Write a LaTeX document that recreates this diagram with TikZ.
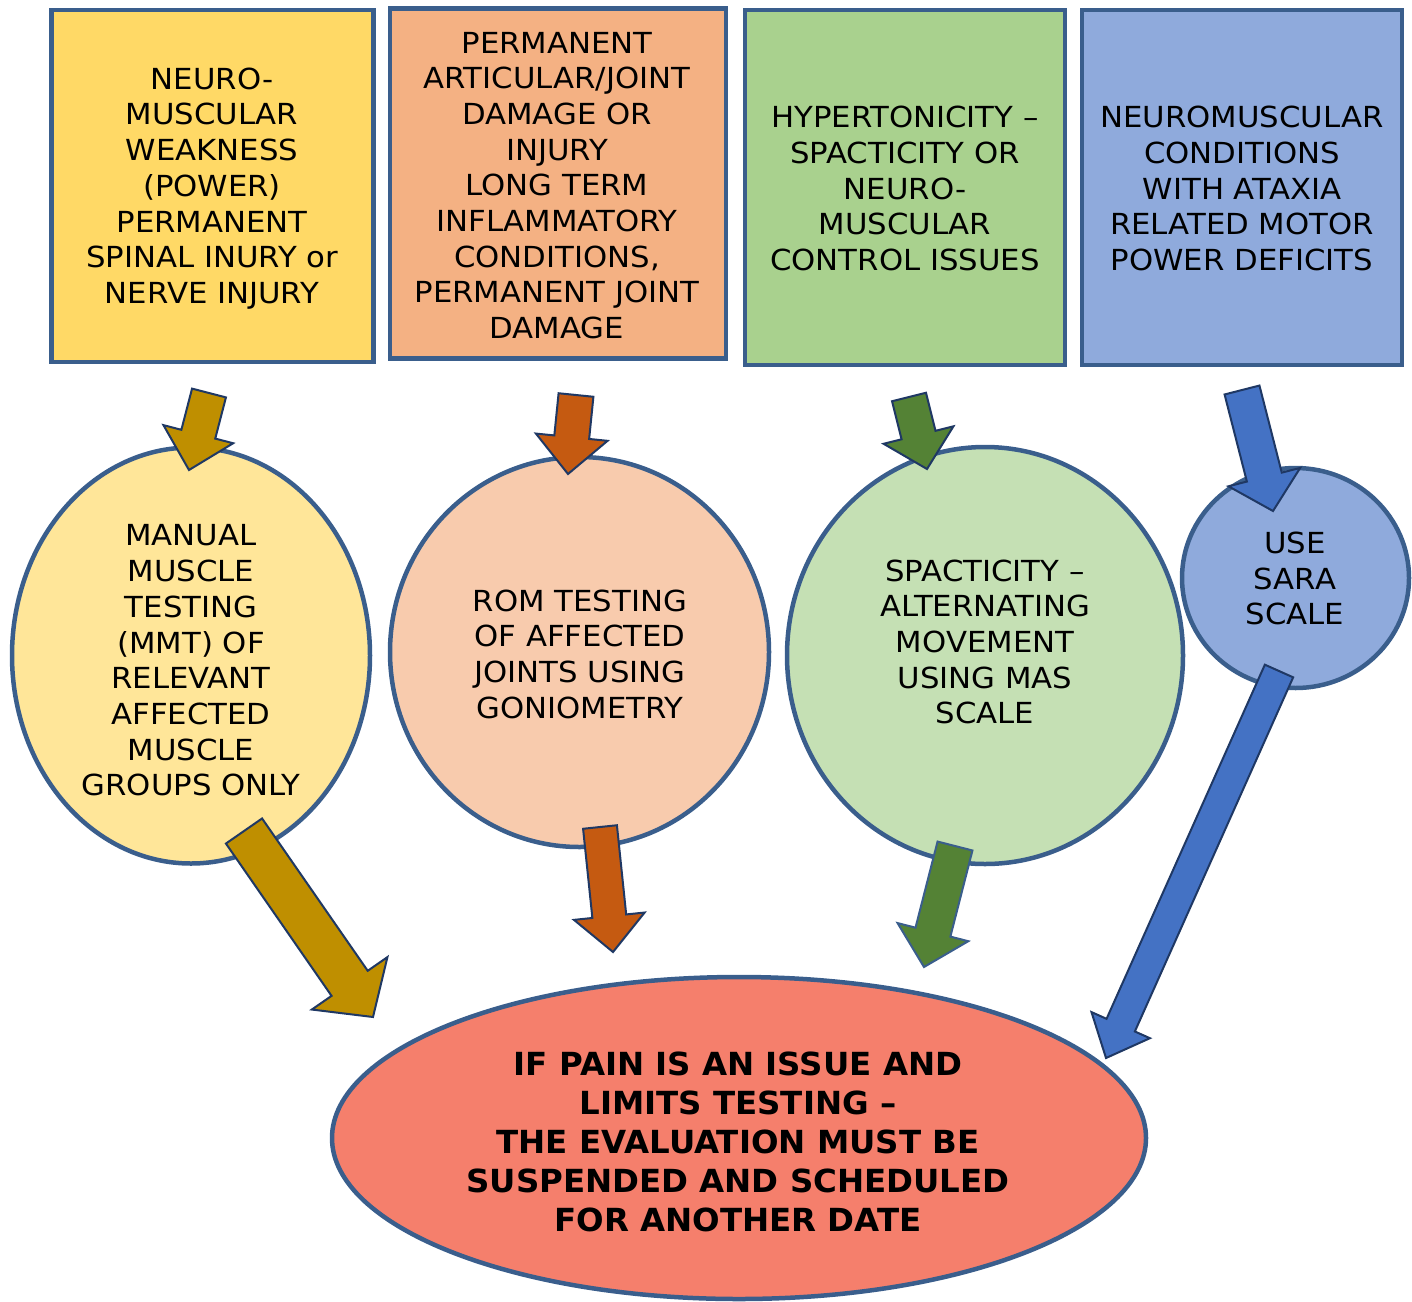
\documentclass[tikz,border=0pt]{standalone}
\usepackage{fontspec}
\setmainfont{DejaVu Sans}[FakeStretch=1.06]
\newfontfamily\bfam{DejaVu Sans}[FakeStretch=1.02]
\usetikzlibrary{shapes.geometric,calc}
\definecolor{bordc}{HTML}{3A5E8C}
\definecolor{arrline}{HTML}{1F3864}
\definecolor{boxA}{HTML}{FFD966}
\definecolor{boxB}{HTML}{F4B183}
\definecolor{boxC}{HTML}{A9D18E}
\definecolor{boxD}{HTML}{8FAADC}
\definecolor{ellA}{HTML}{FFE699}
\definecolor{ellB}{HTML}{F8CBAD}
\definecolor{ellC}{HTML}{C5E0B4}
\definecolor{ellE}{HTML}{F57F6C}
\definecolor{arrA}{HTML}{BF8F00}
\definecolor{arrB}{HTML}{C55A11}
\definecolor{arrC}{HTML}{548235}
\definecolor{arrD}{HTML}{4472C4}
% #1 tail coord, #2 tip coord, #3 half shaft, #4 half head, #5 head length, #6 fill, #7 outline
\newcommand\blockarrow[7]{%
  \coordinate (bb) at ($(#2)!#5!(#1)$);
  \draw[line width=1pt, line join=miter, draw=#7, fill=#6]
    ($(#1)!#3!90:(#2)$) -- ($(bb)!#3!90:(#2)$) -- ($(bb)!#4!90:(#2)$) -- (#2)
    -- ($(bb)!#4!-90:(#2)$) -- ($(bb)!#3!-90:(#2)$) -- ($(#1)!#3!-90:(#2)$) -- cycle;}
\tikzset{
  boxnode/.style={draw=bordc, line width=2.25pt, rectangle, inner sep=0pt},
  ellnode/.style={draw=bordc, line width=2.25pt, ellipse, inner sep=0pt},
  txt/.style={align=center, inner sep=0pt, text=black, font=\fontsize{14.5}{17.85}\selectfont},
  btxt/.style={align=center, inner sep=0pt, text=black, font=\bfam\bfseries\fontsize{15.9}{19.6}\selectfont},
}
\begin{document}
\begin{tikzpicture}[x=0.5pt,y=-0.5pt]
\useasboundingbox (0,0) rectangle (1412,1301);
% top boxes
\node[boxnode, fill=boxA, minimum width=161pt, minimum height=176pt] (b1) at (212.5,186) {};
\node[boxnode, fill=boxB, minimum width=168pt, minimum height=175pt] (b2) at (558,183.5) {};
\node[boxnode, fill=boxC, minimum width=160pt, minimum height=177.5pt] (b3) at (905,187.5) {};
\node[boxnode, fill=boxD, minimum width=160pt, minimum height=177.5pt] (b4) at (1242,187.5) {};
\node[txt] (tb1) at (212,188.5) {NEURO-\\MUSCULAR\\WEAKNESS\\(POWER)\\PERMANENT\\SPINAL INURY or\\NERVE INJURY};
\node[txt] (tb2) at (557,185.5) {PERMANENT\\ARTICULAR/JOINT\\DAMAGE OR\\INJURY\\LONG TERM\\INFLAMMATORY\\CONDITIONS,\\PERMANENT JOINT\\DAMAGE};
\node[txt] (tb3) at (905,188.5) {HYPERTONICITY –\\SPACTICITY OR\\NEURO-\\MUSCULAR\\CONTROL ISSUES};
\node[txt] (tb4) at (1242,188.5) {NEUROMUSCULAR\\CONDITIONS\\WITH ATAXIA\\RELATED MOTOR\\POWER DEFICITS};
% ellipses
\node[ellnode, fill=ellA, minimum width=179pt, minimum height=208pt] (e1) at (191,655.5) {};
\node[ellnode, fill=ellB, minimum width=189.5pt, minimum height=195pt] (e2) at (579.5,652) {};
\node[ellnode, fill=ellC, minimum width=198pt, minimum height=208.5pt] (e3) at (985,655.5) {};
\node[ellnode, fill=boxD, minimum width=113.5pt, minimum height=110pt] (e4) at (1295.5,578) {};
\node[ellnode, fill=ellE, minimum width=407pt, minimum height=161pt] (e5) at (739,1138) {};
\node[txt] (te1) at (191,660.5) {MANUAL\\MUSCLE\\TESTING\\(MMT) OF\\RELEVANT\\AFFECTED\\MUSCLE\\GROUPS ONLY};
\node[txt] (te2) at (580,654) {ROM TESTING\\OF AFFECTED\\JOINTS USING\\GONIOMETRY};
\node[txt] (te3) at (985,642) {SPACTICITY –\\ALTERNATING\\MOVEMENT\\USING MAS\\SCALE};
\node[txt] (te4) at (1295,578.5) {USE\\SARA\\SCALE};
\node[btxt] (te5) at (738,1142) {IF PAIN IS AN ISSUE AND\\LIMITS TESTING –\\THE EVALUATION MUST BE\\SUSPENDED AND SCHEDULED\\FOR ANOTHER DATE};
% arrow end points
\coordinate (a1t) at (209,393);  \coordinate (a1h) at (189,470);
\coordinate (a2t) at (576,395);  \coordinate (a2h) at (568,474);
\coordinate (a3t) at (909,397);  \coordinate (a3h) at (927,469);
\coordinate (a4t) at (1242,390); \coordinate (a4h) at (1273,511);
\coordinate (a5t) at (244,831);  \coordinate (a5h) at (373,1017);
\coordinate (a6t) at (600,827);  \coordinate (a6h) at (613,952);
\coordinate (a7t) at (955,846);  \coordinate (a7h) at (924,967);
\coordinate (a8t) at (1279,671); \coordinate (a8h) at (1106,1058);
\blockarrow{a1t}{a1h}{8.75pt}{18pt}{18.5pt}{arrA}{arrline}
\blockarrow{a2t}{a2h}{8.75pt}{18pt}{18.5pt}{arrB}{arrline}
\blockarrow{a3t}{a3h}{8.75pt}{18pt}{17.5pt}{arrC}{arrline}
\blockarrow{a4t}{a4h}{9pt}{18.5pt}{17.5pt}{arrD}{arrline}
\blockarrow{a5t}{a5h}{11pt}{23pt}{20.5pt}{arrA}{arrline}
\blockarrow{a6t}{a6h}{8.5pt}{17.75pt}{18pt}{arrB}{arrline}
\blockarrow{a7t}{a7h}{9pt}{18.25pt}{18pt}{arrC}{bordc}
\blockarrow{a8t}{a8h}{7.75pt}{16pt}{18pt}{arrD}{arrline}
\end{tikzpicture}
\end{document}
